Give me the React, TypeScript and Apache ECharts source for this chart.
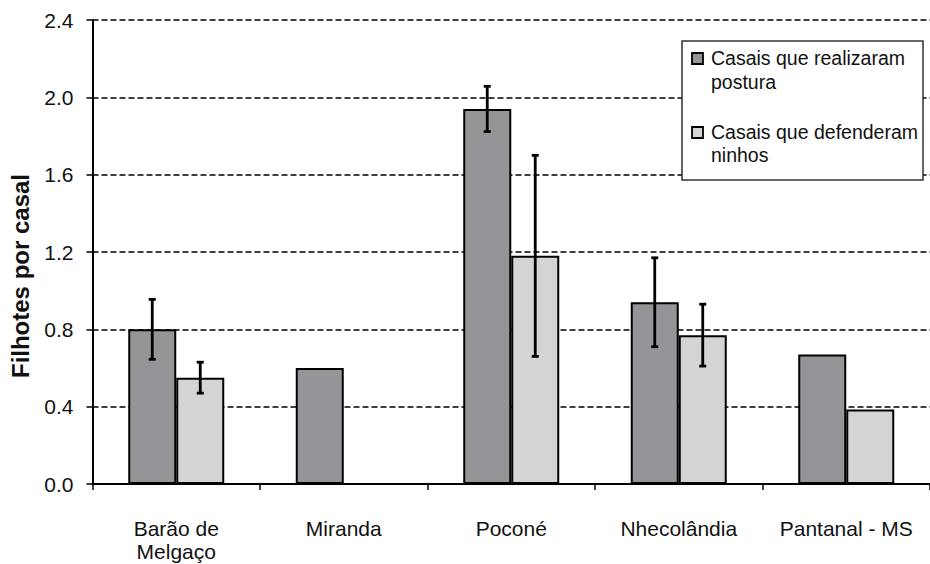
import React, { useEffect, useRef } from "react";
import * as echarts from "echarts";

const categories = ["Barão de\nMelgaço", "Miranda", "Poconé", "Nhecolândia", "Pantanal - MS"];
const seriesNames = ["Casais que realizaram\npostura", "Casais que defenderam\nninhos"];
const posturaMean = [0.8, 0.6, 1.94, 0.94, 0.67];
const posturaErr = [0.155, null, 0.117, 0.23, null];
const defesaMean = [0.55, null, 1.18, 0.77, 0.385];
const defesaErr = [0.08, null, 0.52, 0.16, null];
const yTicks = { min: 0, max: 2.4, interval: 0.4 };

const DARK = "#949599";
const LIGHT = "#d3d4d6";
const FONT = "'Liberation Sans', Arial, sans-serif";
const BAR_W = 48;

function errData(means: (number | null)[], errs: (number | null)[]) {
  const out: number[][] = [];
  means.forEach((m, i) => {
    const e = errs[i];
    if (m != null && e != null) out.push([i, m - e, m + e]);
  });
  return out;
}

function errSeries(data: number[][], offset: number) {
  return {
    type: "custom",
    data,
    encode: { x: 0, y: [1, 2] },
    z: 10,
    renderItem: (params: any, api: any) => {
      const c = api.value(0);
      const lo = api.coord([c, api.value(1)]);
      const hi = api.coord([c, api.value(2)]);
      const x = lo[0] + offset;
      const style = { stroke: "#000", lineWidth: 2.8 };
      return {
        type: "group",
        children: [
          { type: "line", shape: { x1: x, y1: lo[1], x2: x, y2: hi[1] }, style },
          { type: "line", shape: { x1: x - 3.5, y1: lo[1], x2: x + 3.5, y2: lo[1] }, style },
          { type: "line", shape: { x1: x - 3.5, y1: hi[1], x2: x + 3.5, y2: hi[1] }, style },
        ],
      };
    },
  };
}

export default function App() {
  const ref = useRef<HTMLDivElement>(null);
  useEffect(() => {
    if (!ref.current) return;
    const chart = echarts.init(ref.current, null, { renderer: "svg" });
    chart.setOption({
      animation: false,
      backgroundColor: "#fff",
      grid: { left: 92.5, top: 20, right: -7.5, bottom: 80, containLabel: false },
      xAxis: {
        type: "category",
        data: categories,
        axisLine: { lineStyle: { color: "#000", width: 2 } },
        axisTick: { show: true, length: 6, lineStyle: { color: "#000", width: 1.5 } },
        axisLabel: {
          color: "#111",
          fontFamily: FONT,
          fontSize: 21,
          lineHeight: 23,
          margin: 33,
          interval: 0,
        },
        splitLine: { show: false },
      },
      yAxis: {
        type: "value",
        min: yTicks.min,
        max: yTicks.max,
        interval: yTicks.interval,
        axisLine: { show: true, lineStyle: { color: "#000", width: 2 } },
        axisTick: { show: true, length: 6, lineStyle: { color: "#000", width: 1.5 } },
        axisLabel: {
          color: "#111",
          fontFamily: FONT,
          fontSize: 21,
          margin: 19,
          formatter: (v: number) => v.toFixed(1),
        },
        splitLine: { show: true, lineStyle: { color: "#000", width: 1.6, type: [6, 3] } },
      },
      series: [
        {
          name: seriesNames[0],
          type: "bar",
          data: posturaMean,
          barWidth: BAR_W,
          barGap: "0%",
          itemStyle: { color: DARK, borderColor: "#000", borderWidth: 2 },
        },
        {
          name: seriesNames[1],
          type: "bar",
          data: defesaMean,
          barWidth: BAR_W,
          barGap: "0%",
          itemStyle: { color: LIGHT, borderColor: "#000", borderWidth: 2 },
        },
        errSeries(errData(posturaMean, posturaErr), -BAR_W / 2),
        errSeries(errData(defesaMean, defesaErr), BAR_W / 2),
      ],
      graphic: [
        {
          type: "text",
          x: 20,
          y: 276,
          rotation: Math.PI / 2,
          style: {
            text: "Filhotes por casal",
            font: `bold 24px ${FONT}`,
            fill: "#111",
            textAlign: "center",
            textVerticalAlign: "middle",
          },
        },
        {
          type: "rect",
          shape: { x: 682, y: 41, width: 241, height: 139 },
          style: { fill: "#fff", stroke: "#333", lineWidth: 1.5 },
          z: 100,
        },
        {
          type: "rect",
          shape: { x: 692, y: 53, width: 11, height: 11 },
          style: { fill: DARK, stroke: "#000", lineWidth: 1.8 },
          z: 101,
        },
        {
          type: "text",
          x: 711,
          y: 46.5,
          z: 101,
          style: {
            text: seriesNames[0],
            font: `19.5px ${FONT}`,
            lineHeight: 23.5,
            fill: "#111",
            textVerticalAlign: "top",
          },
        },
        {
          type: "rect",
          shape: { x: 692, y: 127, width: 11, height: 11 },
          style: { fill: LIGHT, stroke: "#000", lineWidth: 1.8 },
          z: 101,
        },
        {
          type: "text",
          x: 711,
          y: 120,
          z: 101,
          style: {
            text: seriesNames[1],
            font: `19.5px ${FONT}`,
            lineHeight: 23.5,
            fill: "#111",
            textVerticalAlign: "top",
          },
        },
      ],
    });
    return () => chart.dispose();
  }, []);
  return (
    <div
      ref={ref}
      style={{ position: "fixed", left: 0, top: 0, width: 930, height: 564 }}
    />
  );
}
